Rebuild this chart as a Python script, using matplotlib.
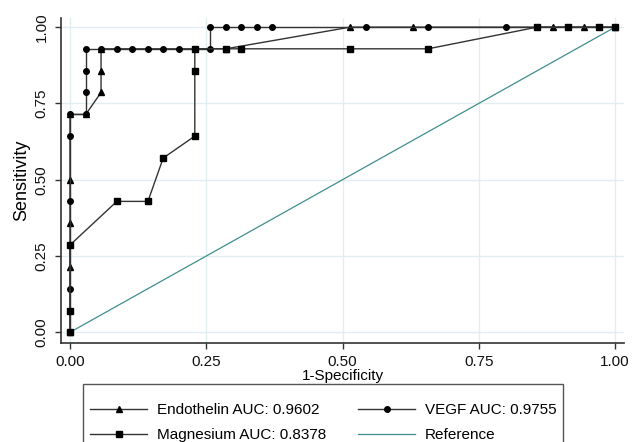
import matplotlib

matplotlib.use("Agg")
import matplotlib.pyplot as plt
from matplotlib.patches import Rectangle

# ROC points (1-specificity, sensitivity)
endo_fpr = [0, 0, 0, 0, 0, 0.029, 0.057, 0.057, 0.057, 0.286, 0.514, 0.629, 0.886, 0.943, 1]
endo_tpr = [0, 0.214, 0.357, 0.5, 0.714, 0.714, 0.786, 0.857, 0.929, 0.929, 1, 1, 1, 1, 1]

vegf_fpr = [0, 0, 0, 0, 0, 0.029, 0.029, 0.029, 0.029, 0.057, 0.086, 0.114, 0.143,
            0.171, 0.2, 0.229, 0.257, 0.257, 0.286, 0.314, 0.343, 0.371, 0.543,
            0.657, 0.8, 1]
vegf_tpr = [0, 0.143, 0.429, 0.643, 0.714, 0.714, 0.786, 0.857, 0.929, 0.929, 0.929,
            0.929, 0.929, 0.929, 0.929, 0.929, 0.929, 1, 1, 1, 1, 1, 1, 1, 1, 1]

mg_fpr = [0, 0, 0, 0.086, 0.143, 0.171, 0.229, 0.229, 0.229, 0.286, 0.314, 0.514,
          0.657, 0.857, 0.914, 0.971, 1]
mg_tpr = [0, 0.071, 0.286, 0.429, 0.429, 0.571, 0.643, 0.857, 0.929, 0.929, 0.929,
          0.929, 0.929, 1, 1, 1, 1]

ref_line = [0, 1]
ticks = [0, 0.25, 0.5, 0.75, 1.0]
tick_labels = ["0.00", "0.25", "0.50", "0.75", "1.00"]

labels = {
    "endo": "Endothelin AUC: 0.9602",
    "vegf": "VEGF AUC: 0.9755",
    "mg": "Magnesium AUC: 0.8378",
    "ref": "Reference",
}

plt.rcParams.update(
    {
        "font.family": ["Liberation Sans", "DejaVu Sans"],
        "font.size": 11,
    }
)

LINE = "#333333"
TEAL = "#3f8f8c"
GRID = "#e3eef0"

fig = plt.figure(figsize=(6.42, 4.42), dpi=100)
ax = fig.add_axes([0.095, 0.2247, 0.877, 0.7346])

for t in ticks:
    ax.axhline(t, color=GRID, lw=1.0, zorder=0)
    ax.axvline(t, color=GRID, lw=1.0, zorder=0)

ax.plot(endo_fpr, endo_tpr, color=LINE, lw=1.0, marker="^", ms=5,
        mfc="black", mec="black", label=labels["endo"], zorder=3)
ax.plot(vegf_fpr, vegf_tpr, color=LINE, lw=1.0, marker="o", ms=4,
        mfc="black", mec="black", label=labels["vegf"], zorder=3)
ax.plot(mg_fpr, mg_tpr, color=LINE, lw=1.0, marker="s", ms=4.5,
        mfc="black", mec="black", label=labels["mg"], zorder=3)
ax.plot(ref_line, ref_line, color=TEAL, lw=0.9, label=labels["ref"], zorder=2)

ax.set_xlim(-0.0165, 1.0165)
ax.set_ylim(-0.034, 1.03)
ax.set_xticks(ticks)
ax.set_xticklabels(tick_labels)
ax.set_yticks(ticks)
ax.set_yticklabels(tick_labels, rotation=90, va="center")
ax.tick_params(length=4.5, width=1, color="#333333", labelcolor="#111111", pad=4.3)
for side in ("top", "right"):
    ax.spines[side].set_visible(False)
for side in ("left", "bottom"):
    ax.spines[side].set_color("#333333")
    ax.spines[side].set_linewidth(1.2)

ax.set_xlabel("1-Specificity", labelpad=0)
ax.set_ylabel("Sensitivity", fontsize=13, labelpad=3)

handles, labs = ax.get_legend_handles_labels()
order = [0, 2, 1, 3]
fig.legend(
    [handles[i] for i in order],
    [labs[i] for i in order],
    ncol=2,
    loc="upper left",
    bbox_to_anchor=(90.5 / 642, 1 - 403.5 / 442),
    frameon=False,
    borderpad=0,
    borderaxespad=0,
    handlelength=3.7,
    handletextpad=0.65,
    columnspacing=2.1,
    labelspacing=0.69,
    fontsize=11,
)
fig.patches.append(
    Rectangle((83.3 / 642, -0.05), 480 / 642, 0.05 + 1 - 384.3 / 442,
              transform=fig.transFigure, fill=False, edgecolor="#555555", lw=1.0)
)

fig.savefig("out.png", dpi=100)
